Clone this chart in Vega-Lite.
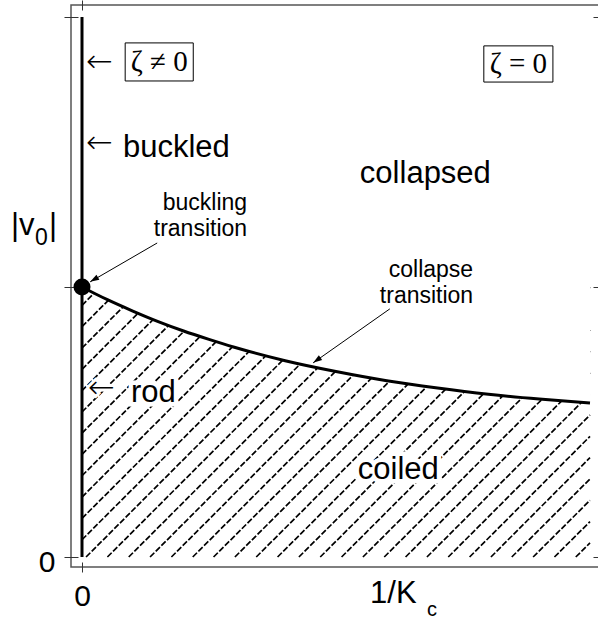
{
  "$schema": "https://vega.github.io/schema/vega-lite/v6.json",
  "width": 529,
  "height": 562,
  "autosize": {"type": "none"},
  "padding": {"left": 71, "top": 5, "right": 0, "bottom": 52},
  "background": "white",
  "config": {"view": {"stroke": "#555", "strokeWidth": 1.5}, "font": "Liberation Sans"},
  "resolve": {"axis": {"x": "independent", "y": "independent"}},
  "datasets": {
    "hatch": [
      {"x": 0, "y": 0.932, "x2": 0.036, "y2": 1},
      {"x": 0, "y": 0.853, "x2": 0.078, "y2": 1},
      {"x": 0, "y": 0.774, "x2": 0.120, "y2": 1},
      {"x": 0, "y": 0.695, "x2": 0.162, "y2": 1},
      {"x": 0, "y": 0.616, "x2": 0.204, "y2": 1},
      {"x": 0, "y": 0.537, "x2": 0.246, "y2": 1},
      {"x": 0, "y": 0.459, "x2": 0.288, "y2": 1},
      {"x": 0, "y": 0.380, "x2": 0.330, "y2": 1},
      {"x": 0, "y": 0.301, "x2": 0.372, "y2": 1},
      {"x": 0, "y": 0.222, "x2": 0.414, "y2": 1},
      {"x": 0, "y": 0.143, "x2": 0.456, "y2": 1},
      {"x": 0, "y": 0.064, "x2": 0.497, "y2": 1},
      {"x": 0.008, "y": 0, "x2": 0.539, "y2": 1},
      {"x": 0.050, "y": 0, "x2": 0.581, "y2": 1},
      {"x": 0.092, "y": 0, "x2": 0.623, "y2": 1},
      {"x": 0.134, "y": 0, "x2": 0.665, "y2": 1},
      {"x": 0.176, "y": 0, "x2": 0.707, "y2": 1},
      {"x": 0.218, "y": 0, "x2": 0.749, "y2": 1},
      {"x": 0.259, "y": 0, "x2": 0.791, "y2": 1},
      {"x": 0.301, "y": 0, "x2": 0.833, "y2": 1},
      {"x": 0.343, "y": 0, "x2": 0.875, "y2": 1},
      {"x": 0.385, "y": 0, "x2": 0.917, "y2": 1},
      {"x": 0.427, "y": 0, "x2": 0.959, "y2": 1},
      {"x": 0.469, "y": 0, "x2": 1, "y2": 0.999},
      {"x": 0.511, "y": 0, "x2": 1, "y2": 0.920},
      {"x": 0.553, "y": 0, "x2": 1, "y2": 0.841},
      {"x": 0.595, "y": 0, "x2": 1, "y2": 0.762},
      {"x": 0.637, "y": 0, "x2": 1, "y2": 0.683},
      {"x": 0.679, "y": 0, "x2": 1, "y2": 0.604},
      {"x": 0.721, "y": 0, "x2": 1, "y2": 0.526},
      {"x": 0.763, "y": 0, "x2": 1, "y2": 0.447},
      {"x": 0.805, "y": 0, "x2": 1, "y2": 0.368},
      {"x": 0.846, "y": 0, "x2": 1, "y2": 0.289},
      {"x": 0.888, "y": 0, "x2": 1, "y2": 0.210},
      {"x": 0.930, "y": 0, "x2": 1, "y2": 0.131},
      {"x": 0.972, "y": 0, "x2": 1, "y2": 0.052}
    ],
    "curve": [
      {"x": 0, "y": 1.0},
      {"x": 0.025, "y": 0.976},
      {"x": 0.05, "y": 0.953},
      {"x": 0.1, "y": 0.911},
      {"x": 0.15, "y": 0.872},
      {"x": 0.2, "y": 0.837},
      {"x": 0.25, "y": 0.806},
      {"x": 0.3, "y": 0.777},
      {"x": 0.4, "y": 0.727},
      {"x": 0.5, "y": 0.687},
      {"x": 0.6, "y": 0.653},
      {"x": 0.7, "y": 0.626},
      {"x": 0.8, "y": 0.603},
      {"x": 0.9, "y": 0.585},
      {"x": 1.0, "y": 0.570}
    ],
    "vline": [{"x": 0, "y": 0, "y2": 2.0}],
    "dot": [{"x": 0, "y": 1}],
    "arrows": [
      {"name": "buckling", "x": 0.148, "y": 1.163, "x2": 0.016, "y2": 1.019},
      {"name": "collapse", "x": 0.606, "y": 0.919, "x2": 0.455, "y2": 0.719}
    ],
    "boxes": [
      {"x": 0.085, "x2": 0.219, "y": 1.763, "y2": 1.904},
      {"x": 0.791, "x2": 0.927, "y": 1.759, "y2": 1.893}
    ],
    "biglabels": [
      {"x": 0.0807, "y": 1.481, "text": "buckled"},
      {"x": 0.547, "y": 1.385, "text": "collapsed"},
      {"x": 0.543, "y": 0.289, "text": "coiled"},
      {"x": 0.0965, "y": 0.574, "text": "rod"}
    ],
    "leftarrows": [
      {"x": 0.0079, "y": 1.833, "text": "←"},
      {"x": 0.0079, "y": 1.533, "text": "←"},
      {"x": 0.0118, "y": 0.626, "text": "←"}
    ],
    "smalllabels": [
      {"x": 0.325, "y": 1.285, "text": "buckling\ntransition"},
      {"x": 0.770, "y": 1.037, "text": "collapse\ntransition"}
    ],
    "zeta": [
      {"x": 0.152, "y": 1.833, "text": "ζ ≠ 0"},
      {"x": 0.859, "y": 1.826, "text": "ζ = 0"}
    ],
    "titlebig": [
      {"x": -0.1398, "y": 1.1926, "text": "|v"},
      {"x": -0.065, "y": 1.1926, "text": "|"},
      {"x": 0.567, "y": -0.1704, "text": "1/K"}
    ],
    "titlesub0": [{"x": -0.0925, "y": 1.1556, "text": "0"}],
    "titlesubc": [{"x": 0.679, "y": -0.2185, "text": "c"}]
  },
  "layer": [
    {
      "data": {"name": "hatch"},
      "mark": {"type": "rule", "strokeDash": [6, 2], "strokeWidth": 1.7, "color": "black"},
      "encoding": {
        "x": {"field": "x", "type": "quantitative", "scale": {"domain": [-0.02165, 1.01969], "nice": false, "zero": false},
          "axis": {"orient": "bottom", "values": [0], "offset": -5, "tickSize": 10, "domain": false, "grid": false, "title": null, "labelFontSize": 30, "labelColor": "black", "labelPadding": 9, "tickColor": "#333", "labelFont": "Liberation Sans"}},
        "y": {"field": "y", "type": "quantitative", "scale": {"domain": [-0.037, 2.0444], "nice": false, "zero": false},
          "axis": {"orient": "left", "values": [0, 1, 2], "labelExpr": "datum.value == 0 ? '0' : ''", "offset": -7, "tickSize": 14, "domain": false, "grid": false, "title": null, "labelFontSize": 30, "labelColor": "black", "labelPadding": 9, "labelOffset": 5, "tickColor": "#333", "labelFont": "Liberation Sans"}},
        "x2": {"field": "x2"},
        "y2": {"field": "y2"}
      }
    },
    {
      "data": {"name": "curve"},
      "mark": {"type": "area", "interpolate": "monotone", "fill": "white", "opacity": 1},
      "encoding": {
        "x": {"field": "x", "type": "quantitative", "scale": {"domain": [-0.02165, 1.01969], "nice": false, "zero": false},
          "axis": {"orient": "top", "values": [0], "labels": false, "offset": -5, "tickSize": 10, "domain": false, "grid": false, "title": null, "tickColor": "#333"}},
        "y": {"field": "y", "type": "quantitative", "scale": {"domain": [-0.037, 2.0444], "nice": false, "zero": false},
          "axis": {"orient": "right", "values": [0, 1, 2], "labels": false, "offset": -7, "tickSize": 14, "domain": false, "grid": false, "title": null, "tickColor": "#333"}},
        "y2": {"datum": 1.05}
      }
    },
    {
      "data": {"name": "biglabels"},
      "mark": {"type": "text", "align": "left", "baseline": "alphabetic", "fontSize": 31, "font": "Liberation Sans", "fill": "white", "stroke": "white", "strokeWidth": 9},
      "encoding": {
        "x": {"field": "x", "type": "quantitative", "axis": null},
        "y": {"field": "y", "type": "quantitative", "axis": null},
        "text": {"field": "text", "type": "nominal"}
      }
    },
    {
      "data": {"name": "leftarrows"},
      "mark": {"type": "text", "align": "left", "baseline": "middle", "fontSize": 32, "font": "DejaVu Sans", "fontWeight": 200, "fill": "white", "stroke": "white", "strokeWidth": 6},
      "encoding": {
        "x": {"field": "x", "type": "quantitative", "axis": null},
        "y": {"field": "y", "type": "quantitative", "axis": null},
        "text": {"field": "text", "type": "nominal"}
      }
    },
    {
      "data": {"name": "vline"},
      "mark": {"type": "rule", "strokeWidth": 3, "color": "black"},
      "encoding": {
        "x": {"field": "x", "type": "quantitative", "axis": null},
        "y": {"field": "y", "type": "quantitative", "axis": null},
        "y2": {"field": "y2"}
      }
    },
    {
      "data": {"name": "curve"},
      "mark": {"type": "line", "interpolate": "monotone", "strokeWidth": 3, "color": "black"},
      "encoding": {
        "x": {"field": "x", "type": "quantitative", "axis": null},
        "y": {"field": "y", "type": "quantitative", "axis": null}
      }
    },
    {
      "data": {"name": "dot"},
      "mark": {"type": "point", "shape": "circle", "filled": true, "size": 290, "color": "black", "opacity": 1},
      "encoding": {
        "x": {"field": "x", "type": "quantitative", "axis": null},
        "y": {"field": "y", "type": "quantitative", "axis": null}
      }
    },
    {
      "data": {"name": "arrows"},
      "mark": {"type": "rule", "strokeWidth": 1, "color": "black"},
      "encoding": {
        "x": {"field": "x", "type": "quantitative", "axis": null},
        "y": {"field": "y", "type": "quantitative", "axis": null},
        "x2": {"field": "x2"},
        "y2": {"field": "y2"}
      }
    },
    {
      "data": {"name": "arrows"},
      "transform": [{"filter": "datum.name == 'buckling'"}],
      "mark": {"type": "point", "shape": "M0,0L0.32,1L-0.32,1Z", "filled": true, "size": 324, "angle": 240, "color": "black", "opacity": 1},
      "encoding": {
        "x": {"field": "x2", "type": "quantitative", "axis": null},
        "y": {"field": "y2", "type": "quantitative", "axis": null}
      }
    },
    {
      "data": {"name": "arrows"},
      "transform": [{"filter": "datum.name == 'collapse'"}],
      "mark": {"type": "point", "shape": "M0,0L0.32,1L-0.32,1Z", "filled": true, "size": 324, "angle": 235, "color": "black", "opacity": 1},
      "encoding": {
        "x": {"field": "x2", "type": "quantitative", "axis": null},
        "y": {"field": "y2", "type": "quantitative", "axis": null}
      }
    },
    {
      "data": {"name": "boxes"},
      "mark": {"type": "rect", "fill": "white", "stroke": "black", "strokeWidth": 1},
      "encoding": {
        "x": {"field": "x", "type": "quantitative", "axis": null},
        "y": {"field": "y", "type": "quantitative", "axis": null},
        "x2": {"field": "x2"},
        "y2": {"field": "y2"}
      }
    },
    {
      "data": {"name": "biglabels"},
      "mark": {"type": "text", "align": "left", "baseline": "alphabetic", "fontSize": 31, "font": "Liberation Sans", "color": "black"},
      "encoding": {
        "x": {"field": "x", "type": "quantitative", "axis": null},
        "y": {"field": "y", "type": "quantitative", "axis": null},
        "text": {"field": "text", "type": "nominal"}
      }
    },
    {
      "data": {"name": "leftarrows"},
      "mark": {"type": "text", "align": "left", "baseline": "middle", "fontSize": 32, "font": "DejaVu Sans", "fontWeight": 200, "color": "black"},
      "encoding": {
        "x": {"field": "x", "type": "quantitative", "axis": null},
        "y": {"field": "y", "type": "quantitative", "axis": null},
        "text": {"field": "text", "type": "nominal"}
      }
    },
    {
      "data": {"name": "smalllabels"},
      "mark": {"type": "text", "align": "right", "baseline": "alphabetic", "fontSize": 23, "font": "Liberation Sans", "lineBreak": "\n", "lineHeight": 25.5, "color": "black"},
      "encoding": {
        "x": {"field": "x", "type": "quantitative", "axis": null},
        "y": {"field": "y", "type": "quantitative", "axis": null},
        "text": {"field": "text", "type": "nominal"}
      }
    },
    {
      "data": {"name": "zeta"},
      "mark": {"type": "text", "align": "center", "baseline": "middle", "fontSize": 29, "font": "Liberation Serif", "color": "black"},
      "encoding": {
        "x": {"field": "x", "type": "quantitative", "axis": null},
        "y": {"field": "y", "type": "quantitative", "axis": null},
        "text": {"field": "text", "type": "nominal"}
      }
    },
    {
      "data": {"name": "titlebig"},
      "mark": {"type": "text", "align": "left", "baseline": "alphabetic", "fontSize": 31, "font": "Liberation Sans", "color": "black"},
      "encoding": {
        "x": {"field": "x", "type": "quantitative", "axis": null},
        "y": {"field": "y", "type": "quantitative", "axis": null},
        "text": {"field": "text", "type": "nominal"}
      }
    },
    {
      "data": {"name": "titlesub0"},
      "mark": {"type": "text", "align": "left", "baseline": "alphabetic", "fontSize": 23, "font": "Liberation Sans", "color": "black"},
      "encoding": {
        "x": {"field": "x", "type": "quantitative", "axis": null},
        "y": {"field": "y", "type": "quantitative", "axis": null},
        "text": {"field": "text", "type": "nominal"}
      }
    },
    {
      "data": {"name": "titlesubc"},
      "mark": {"type": "text", "align": "left", "baseline": "alphabetic", "fontSize": 20, "font": "Liberation Sans", "color": "black"},
      "encoding": {
        "x": {"field": "x", "type": "quantitative", "axis": null},
        "y": {"field": "y", "type": "quantitative", "axis": null},
        "text": {"field": "text", "type": "nominal"}
      }
    }
  ]
}
